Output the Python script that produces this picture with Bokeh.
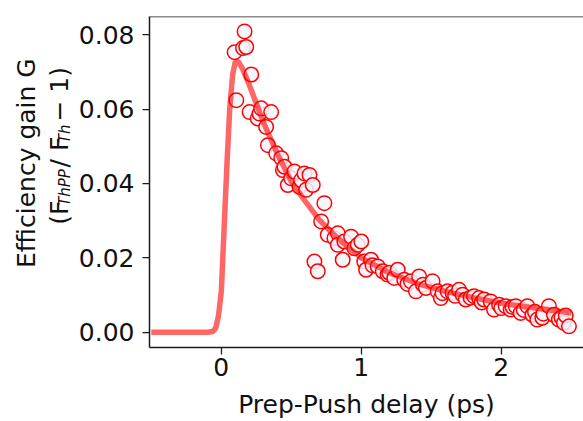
import math
from bokeh.plotting import figure
from bokeh.layouts import row
from bokeh.models import FixedTicker, PrintfTickFormatter, Span
from bokeh.core.properties import value
from bokeh.embed import file_html
from bokeh.resources import INLINE

# ---- measured data (delay in ps, efficiency gain G) ----
delay_ps = [0.095, 0.107, 0.155, 0.166, 0.178, 0.202, 0.214, 0.26, 0.273, 0.285,
            0.32, 0.333, 0.356, 0.392, 0.428, 0.44, 0.451, 0.475, 0.499, 0.522,
            0.558, 0.57, 0.594, 0.605, 0.63, 0.653, 0.665, 0.689, 0.713, 0.736,
            0.76, 0.808, 0.832, 0.832, 0.867, 0.879, 0.927, 0.95, 0.974, 1.0,
            1.021, 1.034, 1.069, 1.08, 1.117, 1.153, 1.188, 1.2, 1.235, 1.26,
            1.306, 1.33, 1.354, 1.39, 1.413, 1.44, 1.461, 1.509, 1.545, 1.568,
            1.58, 1.616, 1.651, 1.67, 1.698, 1.723, 1.746, 1.78, 1.805, 1.841,
            1.86, 1.877, 1.924, 1.948, 1.984, 2.0, 2.031, 2.067, 2.08, 2.103,
            2.138, 2.16, 2.186, 2.222, 2.24, 2.257, 2.293, 2.3, 2.34, 2.376,
            2.411, 2.43, 2.447, 2.46, 2.483]
gain = [0.0753, 0.0624, 0.0764, 0.0809, 0.0767, 0.0592, 0.0693, 0.0575, 0.0588, 0.0602,
        0.0552, 0.0503, 0.0592, 0.0481, 0.0468, 0.0436, 0.0445, 0.0396, 0.0414, 0.0432,
        0.0391, 0.0409, 0.0427, 0.0383, 0.0423, 0.0396, 0.0190, 0.0164, 0.0298, 0.0347,
        0.0262, 0.0253, 0.0266, 0.0235, 0.0195, 0.0244, 0.0257, 0.0226, 0.0235, 0.0244,
        0.0190, 0.0168, 0.0195, 0.0180, 0.0177, 0.0164, 0.0155, 0.0160, 0.0146, 0.0168,
        0.0141, 0.0130, 0.0137, 0.0110, 0.0150, 0.0128, 0.0119, 0.0137, 0.0110, 0.0092,
        0.0105, 0.0110, 0.0106, 0.0098, 0.0114, 0.0101, 0.0088, 0.0093, 0.0097, 0.0092,
        0.0080, 0.0088, 0.0083, 0.0061, 0.0074, 0.0065, 0.0070, 0.0061, 0.0068, 0.0070,
        0.0052, 0.0060, 0.0070, 0.0047, 0.0055, 0.0034, 0.0039, 0.0050, 0.0070, 0.0047,
        0.0034, 0.0040, 0.0025, 0.0045, 0.0016]

# fitted model curve
fit_delay = [-0.5, -0.2, -0.1, -0.06, -0.04, -0.02, 0.0, 0.02, 0.04, 0.06, 0.08, 0.10,
             0.12, 0.15, 0.2, 0.25, 0.3, 0.4, 0.5, 0.6, 0.7, 0.8, 0.9, 1.0, 1.2, 1.4,
             1.6, 1.8, 2.0, 2.2, 2.4, 2.5]
fit_gain = [0.0, 0.0, 0.0, 0.0002, 0.0012, 0.0045, 0.011, 0.028, 0.045, 0.060, 0.069, 0.0728,
            0.0728, 0.0710, 0.0665, 0.0615, 0.0565, 0.0480, 0.0405, 0.0352, 0.0302, 0.0264,
            0.0230, 0.0200, 0.0160, 0.0131, 0.0110, 0.0093, 0.0078, 0.0067, 0.0057, 0.0052]

x_ticks = [0, 1, 2]
y_ticks = [0.0, 0.02, 0.04, 0.06, 0.08]

x_label = "Prep-Push delay (ps)"
y_label_1 = "Efficiency gain G"
y_label_2 = ["(F", "ThPP", "/ F", "Th", "\u2212 1)"]

FONT = "DejaVu Sans"
FS = "25px"
INK = "#111111"
H = 421
STRIP_W = 75

# ---------------- main plot ----------------
p = figure(width=583 - STRIP_W, height=H, output_backend="svg", toolbar_location=None,
           x_range=(-0.513, 2.587), y_range=(-0.0041, 0.0849),
           min_border_left=148 - STRIP_W, min_border_right=0, min_border_top=16,
           min_border_bottom=73)
p.outline_line_color = None
p.xgrid.visible = False
p.ygrid.visible = False
p.background_fill_color = "white"
p.border_fill_color = "white"

for ax in (p.xaxis[0], p.yaxis[0]):
    ax.axis_line_width = 1.5
    ax.axis_line_color = "#1a1a1a"
    ax.major_tick_line_width = 1.25
    ax.major_tick_line_color = "#1a1a1a"
    ax.major_tick_out = 7
    ax.major_tick_in = 0
    ax.minor_tick_line_color = None
    ax.major_label_text_font = FONT
    ax.major_label_text_font_size = FS
    ax.major_label_text_color = INK

p.xaxis.ticker = FixedTicker(ticks=x_ticks)
p.xaxis.formatter = PrintfTickFormatter(format="%d")
p.xaxis.major_label_standoff = 3
p.xaxis.axis_label = x_label
p.xaxis.axis_label_text_font = FONT
p.xaxis.axis_label_text_font_size = FS
p.xaxis.axis_label_text_font_style = "normal"
p.xaxis.axis_label_text_color = INK
p.xaxis.axis_label_standoff = 11

p.yaxis.ticker = FixedTicker(ticks=y_ticks)
p.yaxis.formatter = PrintfTickFormatter(format="%.2f")
p.yaxis.major_label_standoff = 8

# top spine
p.add_layout(Span(location=0.0849, dimension="width", line_color="#1a1a1a", line_width=1.5))

p.scatter(delay_ps, gain, marker="circle", size=14.5, line_color="#ff0000", line_width=1.5,
          fill_color="#f3f3fb", fill_alpha=0.85)
p.line(fit_delay, fit_gain, line_color="#ff0000", line_alpha=0.6, line_width=5.5)

# ---------------- left strip holding the y-axis title ----------------
s = figure(width=STRIP_W, height=H, output_backend="svg", toolbar_location=None,
           x_range=(0, STRIP_W), y_range=(0, H), x_axis_type=None, y_axis_type=None,
           min_border_left=0, min_border_right=0, min_border_top=0, min_border_bottom=0)
s.outline_line_color = None
s.xgrid.visible = False
s.ygrid.visible = False
s.border_fill_color = "white"
s.background_fill_color = "white"

rot = math.pi / 2
s.text(x=[26], y=[H - 186.5], text=[y_label_1], angle=rot,
       text_font=value(FONT), text_font_size=value(FS), text_align="center",
       text_baseline="alphabetic", text_color=INK)

# second title line: pieces with italic subscripts (advance includes the gaps)
piece_size = [FS, "15px", FS, "15px", FS]
piece_style = ["normal", "italic", "normal", "italic", "normal"]
piece_dx = [0, 5, 0, 5, 0]
piece_w = [24.1, 49.0, 30.75, 27.5, 54.6]
ypos = H - 265.0
for txt, fs, st, dx, w in zip(y_label_2, piece_size, piece_style, piece_dx, piece_w):
    s.text(x=[59 + dx], y=[ypos], text=[txt], angle=rot,
           text_font=value(FONT), text_font_size=value(fs), text_font_style=st,
           text_align="left", text_baseline="alphabetic", text_color=INK)
    ypos += w

layout = row(s, p)
open("out.html", "w").write(file_html(layout, INLINE))
